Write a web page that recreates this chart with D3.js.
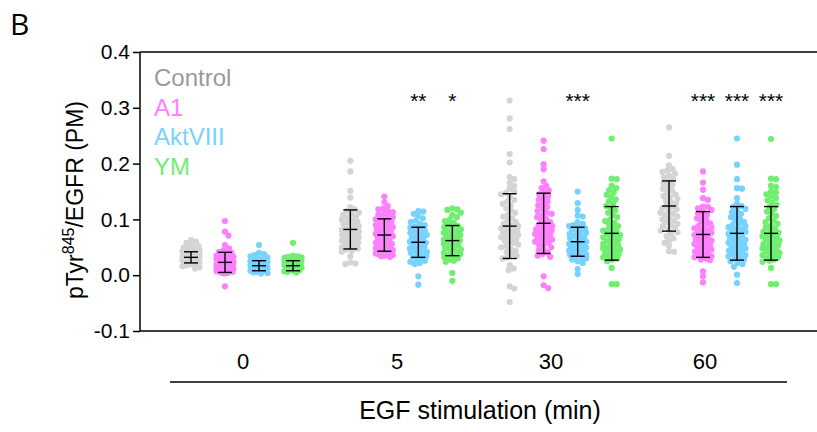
<!DOCTYPE html>
<head>
    <title></title>
    <meta charset="utf-8">
    <script src="https://d3js.org/d3.v7.min.js"></script>
    <style>
        body {
            margin: 0;
            background: #fff;
            font-family: "Liberation Sans", Arial, Helvetica, sans-serif;
        }
        .axis path, .axis line {
            stroke: #000;
            stroke-width: 1.5px;
        }
        .axis text {
            font-size: 21px;
            fill: #000;
        }
    </style>
</head>
<body>
    <svg id="svg" width="817" height="432"></svg>
    <script type="text/javascript">
    // categories
    var times = ["0", "5", "30", "60"];
    var treatments = ["Control", "A1", "AktVIII", "YM"];
    var pointColors = ["#d4d4d4", "#ff80ff", "#78d2ff", "#70ee70"];
    var legendColors = ["#9a9a9a", "#ff80ff", "#78d2ff", "#70ee70"];
    var yTicks = [-0.1, 0.0, 0.1, 0.2, 0.3, 0.4];

    // single cell values, one array per time point (0, 5, 30, 60 min)
    var valuesControl = [
        [0.063,0.060,0.058,0.055,0.052,0.050,0.048,0.047,0.045,0.044,0.043,0.042,0.041,0.040,0.039,0.038,0.037,0.036,0.035,0.034,0.033,0.032,0.031,0.030,0.030,0.029,0.028,0.027,0.026,0.025,0.024,0.023,0.022,0.021,0.020,0.019,0.018,0.016,0.014,0.012],
        [0.205,0.186,0.151,0.139,0.122,0.118,0.115,0.112,0.110,0.108,0.105,0.103,0.100,0.098,0.096,0.094,0.092,0.090,0.088,0.086,0.085,0.083,0.081,0.080,0.078,0.076,0.074,0.072,0.070,0.068,0.066,0.064,0.062,0.060,0.058,0.056,0.054,0.052,0.050,0.048,0.046,0.044,0.042,0.034,0.023,0.020,0.021],
        [0.313,0.281,0.262,0.217,0.202,0.176,0.172,0.165,0.160,0.155,0.150,0.148,0.145,0.140,0.135,0.132,0.128,0.125,0.120,0.116,0.112,0.108,0.105,0.102,0.098,0.095,0.092,0.090,0.088,0.086,0.084,0.082,0.080,0.078,0.076,0.074,0.072,0.070,0.068,0.066,0.064,0.062,0.060,0.058,0.055,0.052,0.050,0.047,0.044,0.041,0.038,0.035,0.032,0.030,0.018,0.009,0.012,-0.020,-0.024,-0.048],
        [0.265,0.214,0.197,0.190,0.188,0.185,0.182,0.178,0.175,0.172,0.168,0.165,0.162,0.158,0.155,0.152,0.148,0.145,0.142,0.140,0.137,0.134,0.131,0.128,0.125,0.122,0.120,0.118,0.115,0.112,0.110,0.108,0.105,0.102,0.100,0.098,0.095,0.092,0.090,0.088,0.085,0.082,0.080,0.077,0.074,0.070,0.066,0.062,0.058,0.053,0.042,0.043]
    ];
    var valuesA1 = [
        [0.097,0.078,0.071,0.054,0.048,0.045,0.042,0.040,0.038,0.036,0.035,0.033,0.032,0.031,0.030,0.029,0.028,0.027,0.026,0.025,0.024,0.023,0.022,0.021,0.020,0.019,0.018,0.017,0.016,0.015,0.014,0.013,0.012,0.011,0.010,0.009,0.008,0.007,0.006,0.005,0.004,0.003,-0.020],
        [0.141,0.131,0.124,0.120,0.118,0.115,0.113,0.110,0.108,0.106,0.104,0.102,0.100,0.098,0.096,0.094,0.092,0.090,0.088,0.086,0.084,0.082,0.080,0.078,0.076,0.074,0.072,0.070,0.068,0.066,0.064,0.062,0.060,0.058,0.056,0.055,0.054,0.052,0.050,0.049,0.048,0.046,0.045,0.044,0.043,0.042,0.041,0.040,0.039,0.038,0.037,0.036,0.035,0.034,0.033],
        [0.241,0.226,0.199,0.190,0.168,0.160,0.156,0.152,0.148,0.145,0.142,0.138,0.135,0.132,0.128,0.125,0.122,0.118,0.115,0.112,0.110,0.107,0.104,0.101,0.098,0.095,0.092,0.090,0.088,0.086,0.084,0.082,0.080,0.078,0.076,0.074,0.072,0.070,0.068,0.066,0.064,0.062,0.060,0.058,0.056,0.053,0.050,0.047,0.044,0.041,0.038,0.035,0.033,-0.002,-0.018,-0.023],
        [0.186,0.166,0.153,0.138,0.135,0.123,0.122,0.120,0.117,0.114,0.111,0.108,0.105,0.102,0.099,0.096,0.093,0.090,0.088,0.086,0.084,0.082,0.080,0.078,0.076,0.074,0.072,0.070,0.068,0.066,0.064,0.062,0.060,0.058,0.056,0.054,0.052,0.050,0.048,0.046,0.044,0.042,0.040,0.038,0.036,0.034,0.032,0.030,0.028,0.027,0.007,-0.002,-0.013]
    ];
    var valuesAktVIII = [
        [0.054,0.040,0.038,0.036,0.034,0.032,0.030,0.028,0.026,0.025,0.024,0.023,0.022,0.021,0.020,0.019,0.018,0.017,0.016,0.015,0.014,0.013,0.012,0.012,0.011,0.010,0.009,0.008,0.008,0.007,0.006,0.005,0.004,0.003],
        [0.115,0.114,0.110,0.106,0.102,0.098,0.095,0.092,0.090,0.087,0.085,0.082,0.080,0.078,0.076,0.074,0.072,0.070,0.068,0.066,0.064,0.062,0.060,0.058,0.056,0.054,0.052,0.050,0.048,0.046,0.044,0.042,0.040,0.038,0.036,0.034,0.032,0.030,0.028,0.026,0.024,0.022,0.020,-0.002,-0.017],
        [0.150,0.129,0.117,0.107,0.105,0.095,0.092,0.090,0.088,0.086,0.084,0.082,0.080,0.078,0.076,0.074,0.072,0.070,0.068,0.066,0.064,0.062,0.060,0.058,0.056,0.055,0.054,0.052,0.050,0.049,0.048,0.046,0.045,0.044,0.042,0.040,0.038,0.036,0.034,0.032,0.030,0.028,0.025,0.022,0.011,0.002],
        [0.245,0.198,0.172,0.156,0.155,0.138,0.128,0.124,0.122,0.119,0.116,0.113,0.110,0.107,0.104,0.101,0.098,0.095,0.092,0.090,0.088,0.086,0.084,0.082,0.080,0.078,0.076,0.074,0.072,0.070,0.068,0.066,0.064,0.062,0.060,0.058,0.056,0.054,0.052,0.050,0.048,0.046,0.044,0.042,0.040,0.038,0.036,0.034,0.032,0.030,0.028,0.025,0.022,0.020,0.015,0.001,-0.014]
    ];
    var valuesYM = [
        [0.058,0.035,0.034,0.033,0.032,0.031,0.030,0.029,0.028,0.027,0.026,0.025,0.024,0.023,0.022,0.021,0.020,0.019,0.018,0.017,0.016,0.015,0.014,0.013,0.012,0.011,0.010,0.009,0.008,0.007,0.006,0.005],
        [0.120,0.118,0.117,0.112,0.108,0.104,0.100,0.097,0.094,0.091,0.088,0.086,0.084,0.082,0.080,0.078,0.076,0.074,0.072,0.070,0.068,0.066,0.064,0.062,0.060,0.058,0.056,0.054,0.052,0.050,0.048,0.046,0.044,0.042,0.040,0.038,0.036,0.034,0.032,0.030,0.028,0.026,0.024,0.004,-0.010],
        [0.245,0.173,0.172,0.160,0.156,0.152,0.148,0.144,0.140,0.136,0.132,0.128,0.124,0.120,0.116,0.112,0.108,0.104,0.100,0.097,0.094,0.091,0.088,0.085,0.082,0.080,0.078,0.076,0.074,0.072,0.070,0.068,0.066,0.064,0.062,0.060,0.058,0.056,0.054,0.052,0.050,0.048,0.046,0.044,0.042,0.040,0.038,0.036,0.034,0.032,0.030,0.028,0.025,0.013,-0.016,-0.016],
        [0.244,0.173,0.172,0.160,0.158,0.150,0.148,0.145,0.141,0.138,0.134,0.130,0.126,0.122,0.118,0.114,0.110,0.106,0.102,0.098,0.095,0.092,0.089,0.086,0.083,0.080,0.078,0.076,0.074,0.072,0.070,0.068,0.066,0.064,0.062,0.060,0.058,0.056,0.054,0.052,0.050,0.048,0.046,0.044,0.042,0.040,0.038,0.036,0.034,0.032,0.030,0.028,0.026,0.024,0.013,-0.016,-0.016]
    ];

    // mean and SD per time point
    var meanControl = [0.032, 0.082, 0.088, 0.124];
    var sdControl   = [0.010, 0.035, 0.058, 0.045];
    var meanA1      = [0.023, 0.072, 0.093, 0.073];
    var sdA1        = [0.018, 0.029, 0.054, 0.041];
    var meanAktVIII = [0.017, 0.059, 0.060, 0.075];
    var sdAktVIII   = [0.009, 0.027, 0.026, 0.048];
    var meanYM      = [0.017, 0.062, 0.075, 0.075];
    var sdYM        = [0.009, 0.027, 0.048, 0.048];

    // significance marks
    var starTimes  = ["5", "5", "30", "60", "60", "60"];
    var starSeries = ["AktVIII", "YM", "AktVIII", "A1", "AktVIII", "YM"];
    var starLabels = ["**", "*", "***", "***", "***", "***"];

    var allValues = [valuesControl, valuesA1, valuesAktVIII, valuesYM];
    var allMeans = [meanControl, meanA1, meanAktVIII, meanYM];
    var allSds = [sdControl, sdA1, sdAktVIII, sdYM];

    var svg = d3.select("#svg");

    var y = d3.scaleLinear().domain([-0.1, 0.4]).range([331, 52]);
    var xGroup = d3.scalePoint().domain(times).range([242, 720]);
    var xSeries = d3.scalePoint().domain(treatments).range([-51, 51]);
    var xLabel = d3.scalePoint().domain(times).range([243, 705]);

    var r = 3.1, minDist = 5.0, maxOff = 8.5, step = 0.5;

    // simple beeswarm: put each dot as close to the centre as it fits
    function swarm(vals) {
        var pts = vals.map(function (v) { return { v: v, py: y(v) }; });
        pts.sort(function (a, b) { return a.py - b.py; });
        var placed = [];
        pts.forEach(function (p) {
            var near = placed.filter(function (q) { return Math.abs(q.py - p.py) < minDist; });
            var best = null, bestScore = -1;
            for (var k = 0; k <= maxOff / step; k++) {
                var cands = k === 0 ? [0] : [k * step, -k * step];
                for (var c = 0; c < cands.length; c++) {
                    var x = cands[c];
                    var dmin = Infinity;
                    near.forEach(function (q) {
                        var d = Math.hypot(q.px - x, q.py - p.py);
                        if (d < dmin) dmin = d;
                    });
                    if (dmin >= minDist) { best = x; bestScore = Infinity; break; }
                    if (dmin > bestScore) { bestScore = dmin; best = x; }
                }
                if (bestScore === Infinity) break;
            }
            p.px = best;
            placed.push(p);
        });
        return placed;
    }

    // axes
    var yAxis = d3.axisLeft(y).tickValues(yTicks).tickSize(7).tickPadding(3)
        .tickFormat(d3.format(".1f"));
    var gy = svg.append("g").attr("class", "axis").attr("transform", "translate(140,0)").call(yAxis);
    gy.select(".domain").attr("d", "M0," + y(-0.1) + "V" + y(0.4)).attr("stroke", "#555");
    gy.selectAll("text").text(function (d) { return d3.format(".1f")(d).replace("−", "-"); });

    svg.append("line").attr("x1", 140).attr("x2", 817).attr("y1", y(0.4)).attr("y2", y(0.4))
        .attr("stroke", "#000").attr("stroke-width", 1.5);
    svg.append("line").attr("x1", 140).attr("x2", 817).attr("y1", y(-0.1)).attr("y2", y(-0.1))
        .attr("stroke", "#000").attr("stroke-width", 1.5);

    // dots
    treatments.forEach(function (t, si) {
        times.forEach(function (tm, gi) {
            var cx = xGroup(tm) + xSeries(t);
            var pts = swarm(allValues[si][gi]);
            svg.append("g").selectAll("circle").data(pts).enter().append("circle")
                .attr("cx", function (d) { return cx + d.px; })
                .attr("cy", function (d) { return d.py; })
                .attr("r", r)
                .attr("fill", pointColors[si]);
        });
    });

    // error bars
    var eb = svg.append("g").attr("stroke", "#000").attr("stroke-width", 1.4);
    treatments.forEach(function (t, si) {
        times.forEach(function (tm, gi) {
            var cx = xGroup(tm) + xSeries(t);
            var m = allMeans[si][gi], s = allSds[si][gi];
            eb.append("line").attr("x1", cx).attr("x2", cx).attr("y1", y(m + s)).attr("y2", y(m - s));
            [m + s, m, m - s].forEach(function (v) {
                eb.append("line").attr("x1", cx - 7).attr("x2", cx + 7).attr("y1", y(v)).attr("y2", y(v));
            });
        });
    });

    // significance stars
    svg.append("g").selectAll("text").data(starLabels).enter().append("text")
        .attr("x", function (d, i) { return xGroup(starTimes[i]) + xSeries(starSeries[i]); })
        .attr("y", 108)
        .attr("text-anchor", "middle")
        .attr("font-size", 21)
        .text(function (d) { return d; });

    // legend
    svg.append("g").selectAll("text").data(treatments).enter().append("text")
        .attr("x", 154)
        .attr("y", function (d, i) { return 86 + i * 29.5; })
        .attr("font-size", 24)
        .attr("fill", function (d, i) { return legendColors[i]; })
        .text(function (d) { return d; });

    // x labels
    svg.append("g").selectAll("text").data(times).enter().append("text")
        .attr("x", function (d) { return xLabel(d); })
        .attr("y", 369)
        .attr("text-anchor", "middle")
        .attr("font-size", 22)
        .text(function (d) { return d; });

    svg.append("line").attr("x1", 170).attr("x2", 787).attr("y1", 382).attr("y2", 382)
        .attr("stroke", "#000").attr("stroke-width", 1.5);

    svg.append("text").attr("x", 480).attr("y", 419).attr("text-anchor", "middle")
        .attr("font-size", 25).text("EGF stimulation (min)");

    // y title
    var yt = svg.append("text").attr("transform", "translate(83,200) rotate(-90)")
        .attr("text-anchor", "middle").attr("font-size", 23);
    yt.append("tspan").text("pTyr");
    yt.append("tspan").attr("font-size", 16).attr("dy", -9).text("845");
    yt.append("tspan").attr("dy", 9).text("/EGFR (PM)");

    // panel letter
    svg.append("text").attr("x", 10).attr("y", 35).attr("font-family", "'Open Sans', sans-serif")
        .attr("font-size", 30).text("B");
    </script>
</body>
